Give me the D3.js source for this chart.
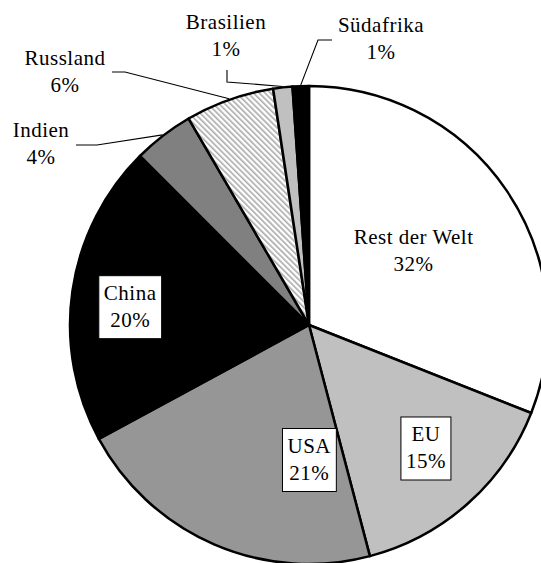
<!DOCTYPE html>
<html>
<head>
<meta charset="utf-8">
<script src="https://cdn.jsdelivr.net/npm/d3@7"></script>
<style>
  body { margin: 0; background: #fff; }
  text { font-family: "Liberation Serif", serif; font-size: 21px; fill: #000; letter-spacing: 0.5px; }
</style>
</head>
<body>
<div id="chart"></div>
<script>
// shares of the pie, clockwise from 12 o'clock
const countries = ["Rest der Welt", "EU", "USA", "China", "Indien", "Russland", "Brasilien", "Südafrika"];
const shares = [31.0, 14.9, 21.2, 20.4, 4.1, 6.0, 1.3, 1.1];
const percentLabels = ["32%", "15%", "21%", "20%", "4%", "6%", "1%", "1%"];

const width = 541,
  height = 563,
  cx = 309,
  cy = 325,
  radius = 239;

const fill = d3.scaleOrdinal()
  .domain(countries)
  .range(["#ffffff", "#c0c0c0", "#969696", "#000000", "#808080", "url(#hatch)", "#c0c0c0", "#000000"]);

// label placement: inside labels by radius fraction + angle nudge, outside ones by offset + leader
const inside = {
  "Rest der Welt": { r: 0.52, da: 1.5, box: false },
  "EU": { r: 0.73, da: -0.5, box: true },
  "USA": { r: 0.59, da: -23.5, box: true },
  "China": { r: 0.75, da: -4.5, box: true }
};
const outside = {
  "Indien": { at: [-268, -175], leader: [[-233, -180], [-212, -180]] },
  "Russland": { at: [-244, -246.5], leader: [[-197, -253], [-184, -253]] },
  "Brasilien": { at: [-83, -283], leader: [[-82, -255], [-82, -243]] },
  "Südafrika": { at: [72, -280], leader: [[23, -285], [9, -285]] }
};

const data = countries.map((c, i) => ({ country: c, share: shares[i], label: percentLabels[i] }));

const svg = d3.select("#chart")
  .append("svg")
  .attr("width", width)
  .attr("height", height);

const pattern = svg.append("defs")
  .append("pattern")
  .attr("id", "hatch")
  .attr("patternUnits", "userSpaceOnUse")
  .attr("width", 4)
  .attr("height", 4)
  .attr("patternTransform", "rotate(-45)");
pattern.append("rect").attr("width", 4).attr("height", 4).attr("fill", "#fff");
pattern.append("rect").attr("width", 1.6).attr("height", 4).attr("fill", "#aaaaaa");

const pie = d3.pie().sort(null).value(d => d.share);
const arc = d3.arc().innerRadius(0).outerRadius(radius);
const arcs = pie(data);

const g = svg.append("g").attr("transform", `translate(${cx},${cy})`);

g.selectAll(".slice")
  .data(arcs)
  .join("path")
  .attr("class", "slice")
  .attr("d", arc)
  .attr("fill", d => fill(d.data.country))
  .attr("stroke", "#000")
  .attr("stroke-width", 2.5)
  .attr("stroke-linejoin", "round");

function twoLines(sel, d) {
  const t = sel.append("text").attr("text-anchor", "middle");
  t.append("tspan").attr("x", 0).attr("y", -13.5).text(d.data.country);
  t.append("tspan").attr("x", 0).attr("y", 13.5).text(d.data.label);
  return t;
}

// inside labels
arcs.filter(d => inside[d.data.country]).forEach(d => {
  const o = inside[d.data.country];
  const a = (d.startAngle + d.endAngle) / 2 + o.da * Math.PI / 180;
  const lg = g.append("g")
    .attr("transform", `translate(${Math.sin(a) * o.r * radius},${-Math.cos(a) * o.r * radius})`);
  const t = twoLines(lg, d);
  if (o.box) {
    const b = t.node().getBBox();
    lg.insert("rect", "text")
      .attr("x", b.x - 5)
      .attr("y", b.y - 5)
      .attr("width", b.width + 10)
      .attr("height", b.height + 12)
      .attr("fill", "#fff")
      .attr("stroke", "#000")
      .attr("stroke-width", 1);
  }
});

// outside labels with leader lines
arcs.filter(d => outside[d.data.country]).forEach(d => {
  const o = outside[d.data.country];
  const a = (d.startAngle + d.endAngle) / 2;
  const edge = [Math.sin(a) * (radius + 1), -Math.cos(a) * (radius + 1)];
  g.append("path")
    .attr("d", d3.line()([...o.leader, edge]))
    .attr("fill", "none")
    .attr("stroke", "#000")
    .attr("stroke-width", 1.1);
  const lg = g.append("g").attr("transform", `translate(${o.at[0]},${o.at[1]})`);
  twoLines(lg, d);
});
</script>
</body>
</html>
